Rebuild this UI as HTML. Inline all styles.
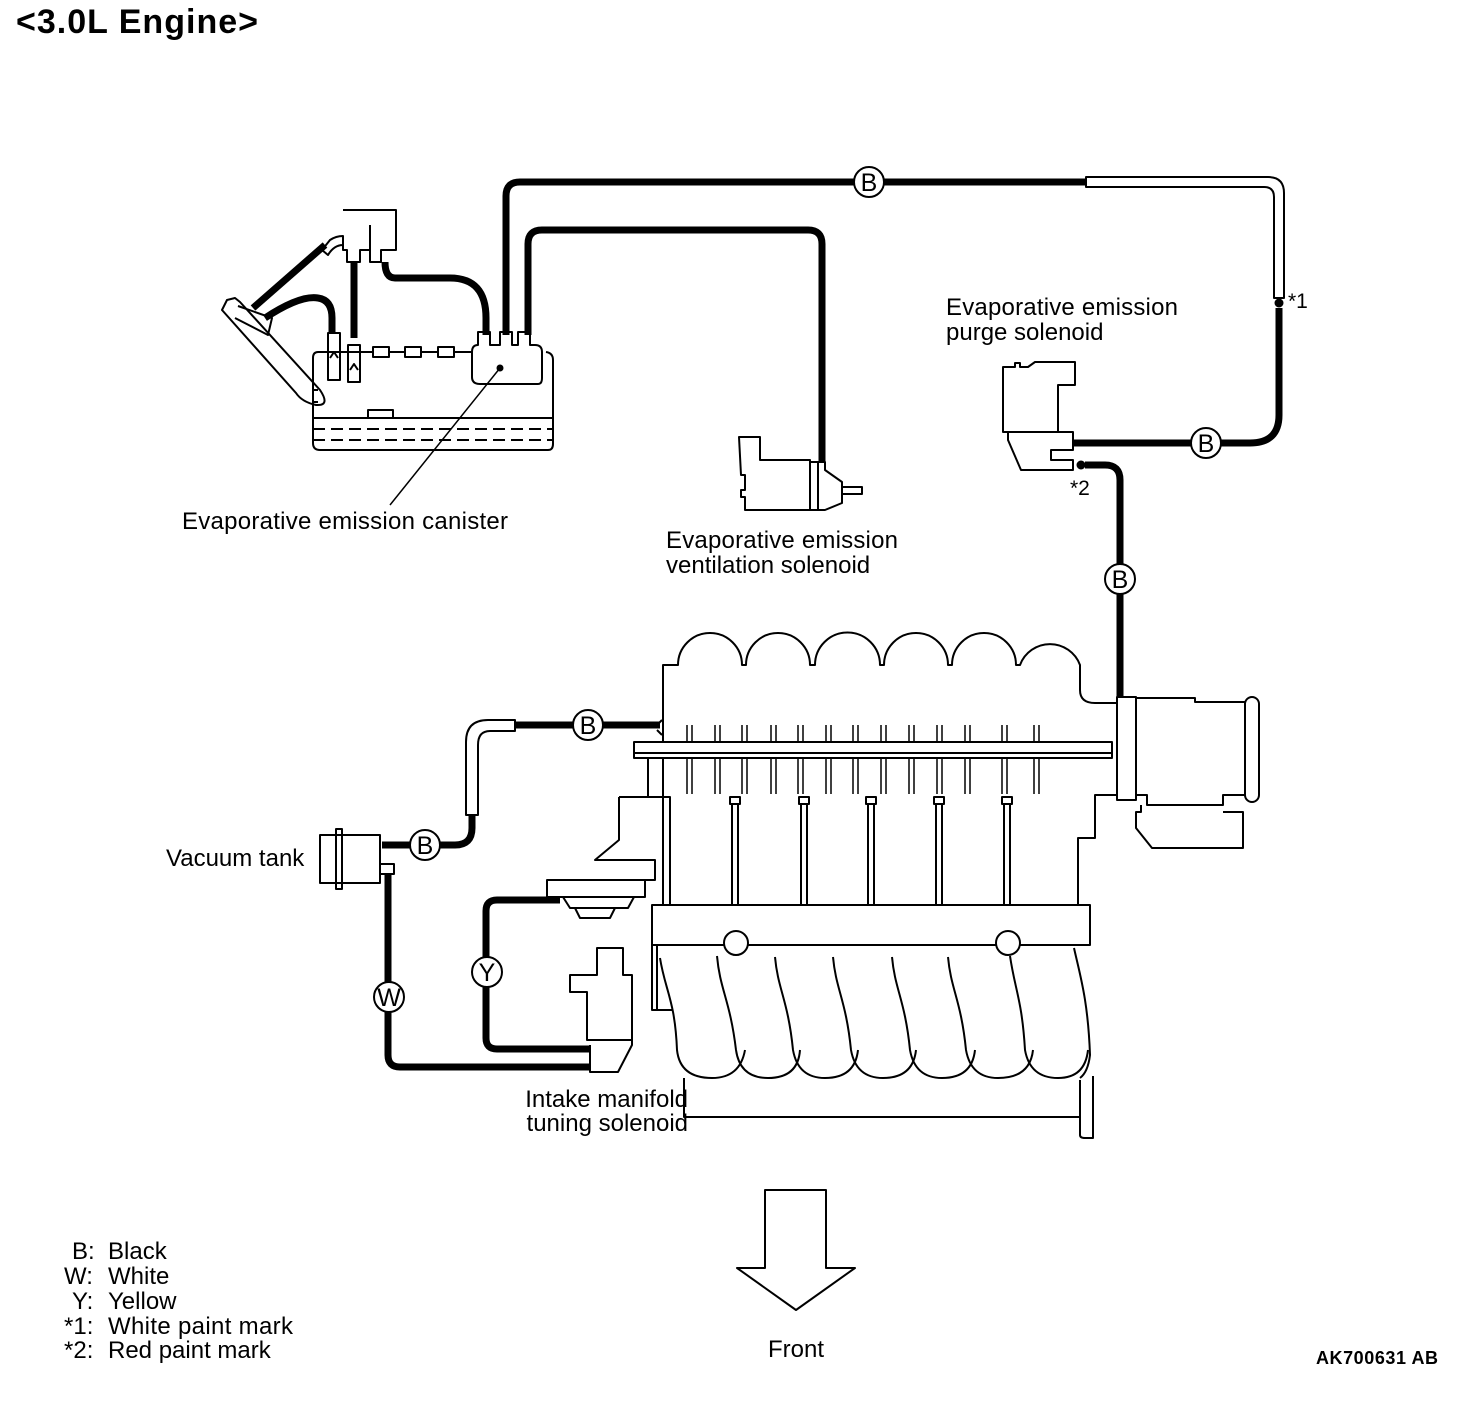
<!DOCTYPE html>
<html><head><style>
html,body{margin:0;padding:0;background:#fff;}
svg{display:block;}
text{font-family:"Liberation Sans",sans-serif;fill:#000;}
</style></head><body>
<svg width="1472" height="1408" viewBox="0 0 1472 1408" xmlns="http://www.w3.org/2000/svg">
<text x="16" y="33" font-size="34" font-weight="bold" textLength="242">&lt;3.0L Engine&gt;</text>

<g fill="none" stroke="#000" stroke-linejoin="round">
<g stroke-width="7">
<path d="M506 335 V196 Q506 182 520 182 H1086"/>
<path d="M528 335 V244 Q528 230 542 230 H808 Q822 230 822 244 V462"/>
<path d="M1279 308 V415 Q1279 443 1250 443 H1073"/>
<path d="M1085 465 H1105 Q1120 465 1120 480 V698"/>
<path d="M382 845 H455 Q472 845 472 828 V815"/>
<path d="M515 725 H660"/>
<path d="M388 875 V1055 Q388 1067 400 1067 H590"/>
<path d="M560 900 H497 Q486 900 486 911 V1038 Q486 1049 497 1049 H590"/>
<path d="M486 335 V318 Q486 278 450 278 H395 Q385 278 385 262"/>
<path d="M354 262 V338"/>
<path d="M253 308 L325 245"/>
<path d="M265 318 Q300 295 318 298 Q332 300 332 318 V333"/>
</g>
<g stroke-width="2">
<path d="M1086 177 H1268 Q1284 177 1284 193 V298 H1274 V197 Q1274 187 1264 187 H1086 Z"/>
<path d="M515 720 H488 Q466 720 466 742 V815 H478 V745 Q478 731 490 731 H515 Z"/>
</g>
<g stroke-width="2" fill="#fff">
<circle cx="869" cy="182" r="15"/>
<circle cx="1206" cy="443" r="15"/>
<circle cx="1120" cy="579" r="15"/>
<circle cx="588" cy="725" r="15"/>
<circle cx="425" cy="845" r="15"/>
<circle cx="389" cy="997" r="15"/>
<circle cx="487" cy="972" r="15"/>
</g>
<circle cx="1279" cy="303" r="4" fill="#000" stroke-width="1"/>
<circle cx="1081" cy="465" r="4" fill="#000" stroke-width="1"/>

<g stroke-width="2">
<path d="M318 352 Q313 352 313 358 V443 Q313 450 320 450 H548 Q553 450 553 444 V360 Q553 353 546 352"/>
<line x1="313" y1="418" x2="553" y2="418"/>
<line x1="313" y1="429" x2="553" y2="429" stroke-dasharray="12,6"/>
<line x1="313" y1="440" x2="553" y2="440" stroke-dasharray="12,6"/>
<path d="M368 418 V410 H393 V418"/>
<path d="M478 345 Q472 345 472 352 V377 Q472 384 480 384 H538 Q542 384 542 378 V352 Q542 345 535 345 H530 V332 H518 V345 H512 V332 H500 V345 H490 V332 H478 Z"/>
<line x1="318" y1="352" x2="472" y2="352"/>
<rect x="373" y="347" width="16" height="10" fill="#fff"/>
<rect x="405" y="347" width="16" height="10" fill="#fff"/>
<rect x="438" y="347" width="16" height="10" fill="#fff"/>
<path d="M328 333 H340 V380 H328 Z M330 358 L334 352 L338 358"/>
<path d="M348 345 H360 V382 H348 Z M350 370 L354 364 L358 370"/>
<path d="M343 210 H396 V250 H381 V262 H370 V250 H360 V262 H347 V250 H343 V236 Q336 236 330 240 L322 250 L328 255 Q334 245 343 245"/>
<line x1="370" y1="225" x2="370" y2="250"/>
<path d="M222 310 L227 300 L235 298 L240 302 L320 390 Q330 405 318 405 H316 Q302 402 296 393 Z"/>
<path d="M238 306 L272 318 L268 335 L235 318"/>
<path d="M313 390 H318 M313 402 H318"/>
<line x1="500" y1="368" x2="390" y2="505" stroke-width="1.5"/>
</g>
<circle cx="500" cy="368" r="3" fill="#000"/>

<g stroke-width="2">
<path d="M739 437 H760 V460 H810 V510 H745 V497 H741 V490 H745 V475 H741 Z"/>
<path d="M810 462 H825 V470 L842 482 V503 L825 510 H810"/>
<line x1="818" y1="462" x2="818" y2="510"/>
<path d="M842 487 H862 V494 H842"/>
</g>

<g stroke-width="2">
<path d="M1003 367 H1015 V363 H1020 V367 H1028 L1035 362 H1075 V385 H1058 V432 H1003 Z"/>
<path d="M1003 432 H1073 V450 H1051 V460 H1073 V470 H1021 L1008 440 V432"/>
</g>

<g stroke-width="2">
<path d="M663 742 V665 H678 A32 32 0 0 1 742 665 H746 A32 32 0 0 1 810 665 H815 A32 32 0 0 1 880 665 H884 A32 32 0 0 1 948 665 H952 A32 32 0 0 1 1016 665 H1020 A32 32 0 0 1 1080 665 V690 Q1080 703 1095 703 H1117"/>
<path d="M657 725 L662 720 M657 730 L662 735"/>
<rect x="634" y="742" width="478" height="16"/>
<line x1="634" y1="753" x2="1112" y2="753"/>
<path d="M648 758 V797 M663 758 V797"/>
<path d="M663 797 V905 M1078 905 V838 H1095 V795 H1117"/>
<path d="M1117 697 H1136 V800 H1117 Z"/>
<path d="M1136 698 H1195 V702 H1245 V795 H1223 V805 H1147 V795 H1136"/>
<rect x="1245" y="697" width="14" height="105" rx="7"/>
<path d="M1141 805 V812 H1136 V828 L1152 848 H1243 V812 H1223"/>
</g>
<g stroke-width="1.5">
<path d="M687 725 V742 M692 725 V742 M715 725 V742 M720 725 V742 M742 725 V742 M747 725 V742 M771 725 V742 M776 725 V742 M798 725 V742 M803 725 V742 M826 725 V742 M831 725 V742 M853 725 V742 M858 725 V742 M881 725 V742 M886 725 V742 M909 725 V742 M914 725 V742 M937 725 V742 M942 725 V742 M965 725 V742 M970 725 V742 M1002 725 V742 M1007 725 V742 M1034 725 V742 M1039 725 V742"/>
<path d="M687 758 V794 M692 758 V794 M742 758 V794 M747 758 V794 M798 758 V794 M803 758 V794 M853 758 V794 M858 758 V794 M909 758 V794 M914 758 V794 M965 758 V794 M970 758 V794 M1002 758 V794 M1007 758 V794 M1034 758 V794 M1039 758 V794 M715 758 V794 M720 758 V794 M771 758 V794 M776 758 V794 M826 758 V794 M831 758 V794 M881 758 V794 M886 758 V794 M937 758 V794 M942 758 V794"/>
</g>
<g stroke-width="2">
<rect x="730" y="797" width="10" height="7"/><path d="M732 804 V905 M738 804 V905"/>
<rect x="799" y="797" width="10" height="7"/><path d="M801 804 V905 M807 804 V905"/>
<rect x="866" y="797" width="10" height="7"/><path d="M868 804 V905 M874 804 V905"/>
<rect x="934" y="797" width="10" height="7"/><path d="M936 804 V905 M942 804 V905"/>
<rect x="1002" y="797" width="10" height="7"/><path d="M1004 804 V905 M1010 804 V905"/>
</g>
<g stroke-width="2">
<rect x="652" y="905" width="438" height="40"/>
<circle cx="736" cy="943" r="12" fill="#fff"/>
<circle cx="1008" cy="943" r="12" fill="#fff"/>
<path d="M652 945 V1010 H672 M657 945 V1010"/>
<path d="M660 958 C665 990 675 1000 677 1050 Q680 1078 712 1078 Q740 1078 745 1050"/>
<path d="M717 956 C720 990 730 1000 736 1050 Q740 1078 768 1078 Q798 1078 800 1050"/>
<path d="M775 957 C778 990 788 1000 793 1050 Q798 1078 825 1078 Q855 1078 858 1050"/>
<path d="M833 957 C836 990 846 1000 851 1050 Q856 1078 883 1078 Q913 1078 916 1050"/>
<path d="M892 957 C895 990 905 1000 910 1050 Q915 1078 942 1078 Q972 1078 975 1050"/>
<path d="M948 957 C951 990 961 1000 966 1050 Q971 1078 998 1078 Q1030 1078 1033 1050"/>
<path d="M1010 956 C1015 990 1022 1000 1025 1050 Q1030 1078 1058 1078 Q1085 1078 1088 1050"/>
<path d="M1074 948 C1080 975 1088 1000 1090 1055 Q1088 1072 1080 1078"/>
<path d="M684 1078 V1117 H1080 M1080 1080 V1135 Q1080 1138 1085 1138 H1093 V1076"/>
</g>
<g stroke-width="2">
<path d="M619 797 H670 V905 M619 797 V840 L595 860 H655 V880 H547 V897 H645 V880"/>
<path d="M655 860 V880"/>
<path d="M563 897 L570 908 H628 L634 897 M575 908 L580 918 H610 L615 908"/>
<path d="M597 948 H623 V975 H632 V1040 H587 V992 H570 V975 H597 Z"/>
<path d="M587 1040 H632 V1045 L618 1072 H590 V1045"/>
<line x1="623" y1="960" x2="623" y2="975"/>
<rect x="320" y="835" width="60" height="48"/>
<rect x="336" y="829" width="6" height="60"/>
<rect x="380" y="864" width="14" height="10"/>
</g>

<path d="M765 1190 H826 V1268 H855 L796 1310 L737 1268 H765 Z" stroke-width="2"/>
</g>

<g font-size="25" text-anchor="middle">
<text x="869" y="191">B</text>
<text x="1206" y="452">B</text>
<text x="1120" y="588">B</text>
<text x="588" y="734">B</text>
<text x="425" y="854">B</text>
<text x="389" y="1006">W</text>
<text x="487" y="981">Y</text>
</g>
<g font-size="24">
<text x="1288" y="308" font-size="21">*1</text>
<text x="1070" y="495" font-size="21">*2</text>
<text x="946" y="315" textLength="232">Evaporative emission</text>
<text x="946" y="340">purge solenoid</text>
<text x="182" y="529" textLength="326">Evaporative emission canister</text>
<text x="666" y="548" textLength="232">Evaporative emission</text>
<text x="666" y="573">ventilation solenoid</text>
<text x="166" y="866">Vacuum tank</text>
<text x="688" y="1107" text-anchor="end">Intake manifold</text>
<text x="688" y="1131" text-anchor="end">tuning solenoid</text>
<text x="768" y="1357">Front</text>
<text x="72" y="1259">B:</text><text x="108" y="1259">Black</text>
<text x="64" y="1284">W:</text><text x="108" y="1284">White</text>
<text x="72" y="1309">Y:</text><text x="108" y="1309">Yellow</text>
<text x="64" y="1334">*1:</text><text x="108" y="1334" textLength="185">White paint mark</text>
<text x="64" y="1358">*2:</text><text x="108" y="1358">Red paint mark</text>
</g>
<text x="1316" y="1364" font-size="18" font-weight="bold" textLength="122">AK700631 AB</text>
</svg>
</body></html>
